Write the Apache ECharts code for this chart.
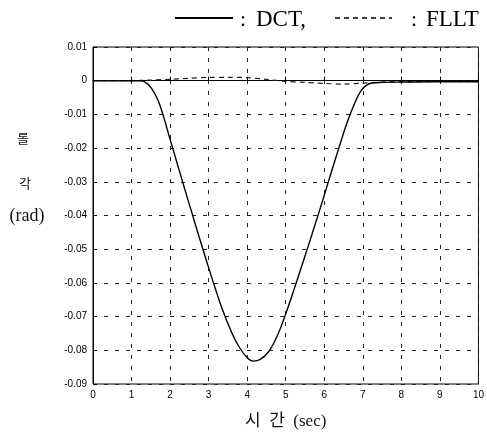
<!DOCTYPE html>
<html>
<head>
<meta charset="utf-8">
<script src="https://cdn.jsdelivr.net/npm/echarts@6/dist/echarts.min.js"></script>
<style>html,body{margin:0;padding:0;background:#fff}#c{width:487px;height:435px}</style>
</head>
<body>
<div id="c"></div>
<script>
// time samples (sec) and roll angle (rad)
var dctTime = [0, 1.0, 1.25, 1.4, 1.5, 1.6, 1.7, 1.8, 1.87, 1.96, 2.16, 2.36, 2.56, 2.76, 2.96, 3.16, 3.36, 3.57, 3.78, 4.0, 4.16, 4.35, 4.55, 4.75, 4.96, 5.2, 5.4, 5.6, 5.8, 6.0, 6.2, 6.4, 6.6, 6.8, 6.95, 7.1, 7.25, 7.5, 8, 9, 10];
var dctValues = [0, 0, 0, -0.0008, -0.002, -0.0038, -0.0062, -0.0095, -0.0122, -0.0158, -0.0236, -0.0314, -0.0390, -0.0466, -0.0540, -0.0612, -0.0680, -0.0740, -0.0788, -0.0822, -0.0832, -0.0826, -0.0805, -0.0765, -0.0705, -0.0625, -0.0555, -0.0485, -0.0413, -0.0340, -0.0265, -0.0192, -0.0122, -0.0064, -0.0030, -0.0013, -0.0007, -0.0005, -0.0004, -0.0003, -0.0003];
var fllTime = [0, 1.0, 1.5, 2.0, 2.5, 3.0, 3.5, 4.0, 4.5, 5.0, 5.5, 6.0, 6.5, 7.0, 7.5, 8.0, 9.0, 10.0];
var fllValues = [0, 0, 0.0002, 0.0004, 0.0007, 0.001, 0.001, 0.0009, 0.0004, -0.0002, -0.0005, -0.0008, -0.001, -0.0007, -0.0004, -0.0003, -0.0002, -0.0001];
var xTicks = [0, 10, 1];
var yTicks = [-0.09, 0.01, 0.01];
var seriesNames = ['DCT', 'FLLT'];

function pairs(t, v) { return t.map(function (x, i) { return [x, v[i]]; }); }

var chart = echarts.init(document.getElementById('c'), null, {renderer: 'canvas'});
var tickFont = {fontFamily: 'Liberation Sans, Arial, sans-serif', fontSize: 10, color: '#000'};
var serif = 'Liberation Serif, Times New Roman, Noto Sans CJK KR, serif';
chart.setOption({
  animation: false,
  backgroundColor: '#fff',
  grid: {left: 93, right: 5, top: 47, bottom: 48, show: true, borderColor: '#000', borderWidth: 1},
  xAxis: {
    type: 'value', min: xTicks[0], max: xTicks[1], interval: xTicks[2],
    axisLine: {show: true, lineStyle: {color: '#000'}},
    axisTick: {inside: true, length: 4, lineStyle: {color: '#000'}},
    axisLabel: Object.assign({margin: 6}, tickFont),
    splitLine: {show: true, lineStyle: {color: '#222', type: [4, 7], width: 1}},
    name: '시  간  (sec)', nameLocation: 'middle', nameGap: 29,
    nameTextStyle: {fontFamily: serif, fontSize: 17, color: '#111'}
  },
  yAxis: {
    type: 'value', min: yTicks[0], max: yTicks[1], interval: yTicks[2],
    axisLine: {show: true, lineStyle: {color: '#000'}},
    axisTick: {inside: true, length: 4, lineStyle: {color: '#000'}},
    axisLabel: Object.assign({margin: 6, formatter: function (v) { return Math.abs(v) < 1e-9 ? '0' : v.toFixed(2); }}, tickFont),
    splitLine: {show: true, lineStyle: {color: '#222', type: [4, 7], width: 1}}
  },
  graphic: [
    {type: 'line', shape: {x1: 175, y1: 18, x2: 233, y2: 18}, style: {stroke: '#000', lineWidth: 1.8}},
    {type: 'text', x: 240, y: 20, style: {text: ':', font: '22px ' + serif, fill: '#000', verticalAlign: 'middle'}},
    {type: 'text', x: 256, y: 20, style: {text: seriesNames[0] + ',', font: '23px ' + serif, fill: '#000', verticalAlign: 'middle'}},
    {type: 'line', shape: {x1: 335, y1: 18, x2: 392, y2: 18}, style: {stroke: '#000', lineWidth: 1.4, lineDash: [5, 4]}},
    {type: 'text', x: 411, y: 20, style: {text: ':', font: '22px ' + serif, fill: '#000', verticalAlign: 'middle'}},
    {type: 'text', x: 426, y: 20, style: {text: seriesNames[1], font: '23px ' + serif, fill: '#000', verticalAlign: 'middle'}},
    {type: 'text', x: 23, y: 138, style: {text: '롤', font: '13px Noto Sans CJK KR', fill: '#111', align: 'center', verticalAlign: 'middle'}},
    {type: 'text', x: 25, y: 183, style: {text: '각', font: '13px Noto Sans CJK KR', fill: '#111', align: 'center', verticalAlign: 'middle'}},
    {type: 'text', x: 27, y: 216, style: {text: '(rad)', font: '18px ' + serif, fill: '#111', align: 'center', verticalAlign: 'middle'}}
  ],
  series: [
    {name: seriesNames[0], type: 'line', data: pairs(dctTime, dctValues), smooth: 0.4, showSymbol: false,
     lineStyle: {color: '#000', width: 1.4}, z: 3},
    {name: seriesNames[1], type: 'line', data: pairs(fllTime, fllValues), smooth: 0.3, showSymbol: false,
     lineStyle: {color: '#222', width: 1.2, type: [5, 4]}, z: 2}
  ]
});
</script>
</body>
</html>
